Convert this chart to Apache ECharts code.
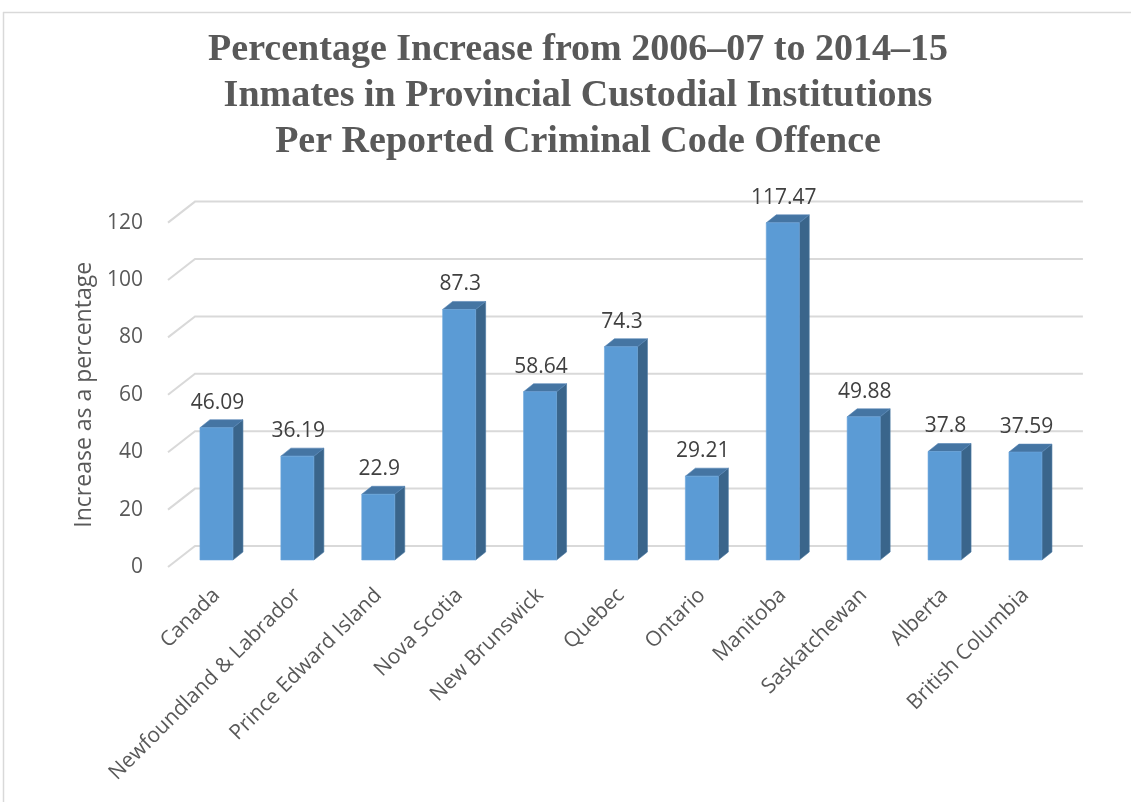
<!DOCTYPE html>
<html>
<head>
<meta charset="utf-8">
<script src="https://cdn.jsdelivr.net/npm/echarts@6/dist/echarts.min.js"></script>
<style>
html,body{margin:0;padding:0;background:#fff;}
#chart{width:1131px;height:802px;}
</style>
</head>
<body>
<div id="chart"></div>
<script>
const categories = ['Canada','Newfoundland & Labrador','Prince Edward Island','Nova Scotia','New Brunswick','Quebec','Ontario','Manitoba','Saskatchewan','Alberta','British Columbia'];
const values = [46.09, 36.19, 22.9, 87.3, 58.64, 74.3, 29.21, 117.47, 49.88, 37.8, 37.59];
const yTicks = [0, 20, 40, 60, 80, 100, 120];
const titleLines = ['Percentage Increase from 2006\u201307 to 2014\u201315','Inmates in Provincial Custodial Institutions','Per Reported Criminal Code Offence'];
const yAxisName = 'Increase as a percentage';

const FONT = '"Open Sans", sans-serif';
const BAR_W = 33, DX = 10, DY = 8;

const chart = echarts.init(document.getElementById('chart'));

function renderBar(params, api) {
  const idx = api.value(0), v = api.value(1);
  const top = api.coord([idx, v]);
  const base = api.coord([idx, 0]);
  const x1 = top[0] - BAR_W / 2, x2 = top[0] + BAR_W / 2;
  const yt = top[1], yb = base[1];
  return {
    type: 'group',
    children: [
      {type: 'polygon', shape: {points: [[x2, yt], [x2 + DX, yt - DY], [x2 + DX, yb - DY], [x2, yb]]},
       style: {fill: '#3a658b', stroke: '#4a78a3', lineWidth: 0.6}},
      {type: 'polygon', shape: {points: [[x1, yt], [x1 + DX, yt - DY], [x2 + DX, yt - DY], [x2, yt]]},
       style: {fill: '#4575a3', stroke: '#5585b5', lineWidth: 0.6}},
      {type: 'rect', shape: {x: x1, y: yt, width: BAR_W, height: yb - yt},
       style: {fill: '#5b9bd5', stroke: '#6ba6dc', lineWidth: 0.6}},
      {type: 'text', x: top[0] + 1, y: yt - 25,
       style: {text: String(v), fill: '#404040', font: '21px ' + FONT, align: 'center', verticalAlign: 'middle'}}
    ]
  };
}

function renderGrid(params, api) {
  const v = api.value(0);
  const y = api.coord([0, v])[1];
  const cs = params.coordSys;
  const left = cs.x, right = cs.x + cs.width;
  return {
    type: 'polyline',
    shape: {points: [[left - 8, y + 7], [left + 19, y - 14], [right + 17, y - 14]]},
    style: {stroke: '#d9d9d9', lineWidth: 2, fill: null}
  };
}

const option = {
  backgroundColor: '#ffffff',
  animation: false,
  title: {
    text: titleLines.join('\n'),
    left: 573, top: 22, textAlign: 'center',
    textStyle: {fontFamily: '"Liberation Serif", serif', fontWeight: 'bold', fontSize: 38, lineHeight: 46, color: '#595959'}
  },
  graphic: [
    {type: 'line', shape: {x1: 3, y1: 12.5, x2: 1131, y2: 12.5}, style: {stroke: '#d9d9d9', lineWidth: 1.5}},
    {type: 'line', shape: {x1: 3.5, y1: 12, x2: 3.5, y2: 802}, style: {stroke: '#d9d9d9', lineWidth: 1.5}}
  ],
  grid: [
    {left: 176, right: 65.1, top: 215.6, bottom: 242},
    {left: 151, right: 65.1, top: 222.6, bottom: 235}
  ],
  xAxis: [
    {type: 'category', gridIndex: 0, data: categories,
     axisLine: {show: false}, axisTick: {show: false},
     axisLabel: {rotate: 45, interval: 0, margin: 32, color: '#595959', fontSize: 21, fontFamily: FONT}},
    {type: 'category', gridIndex: 1, data: categories, show: false}
  ],
  yAxis: [
    {type: 'value', gridIndex: 0, min: 0, max: 120, interval: 20, show: false, splitLine: {show: false}},
    {type: 'value', gridIndex: 1, min: yTicks[0], max: yTicks[yTicks.length - 1], interval: 20,
     axisLine: {show: false}, axisTick: {show: false}, splitLine: {show: false},
     axisLabel: {margin: 8, color: '#595959', fontSize: 21, fontFamily: FONT},
     name: yAxisName, nameLocation: 'middle', nameRotate: 90, nameGap: 52,
     nameTextStyle: {color: '#595959', fontSize: 23, fontFamily: FONT}}
  ],
  series: [
    {type: 'custom', xAxisIndex: 0, yAxisIndex: 0, z: 1,
     renderItem: renderGrid, data: yTicks.map(t => [t]), encode: {y: 0}, silent: true},
    {type: 'custom', xAxisIndex: 0, yAxisIndex: 0, z: 5,
     renderItem: renderBar, data: values.map((v, i) => [i, v]), encode: {x: 0, y: 1}}
  ]
};
chart.setOption(option);
</script>
</body>
</html>
